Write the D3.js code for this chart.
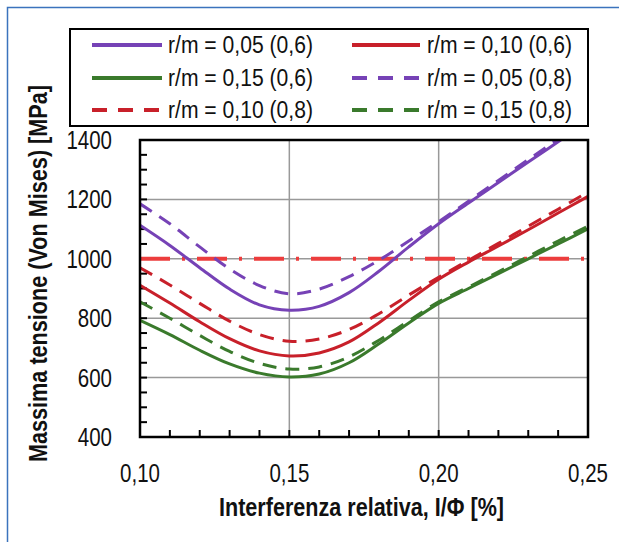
<!DOCTYPE html>
<html><head><meta charset="utf-8">
<script src="https://cdn.jsdelivr.net/npm/d3@7"></script>
<style>
html,body{margin:0;padding:0;background:#fff;}
svg{display:block;}
</style></head>
<body>
<svg id="chart" width="619" height="542"></svg>
<script>
// ---- data ----
const xValues = [0.10,0.11,0.12,0.13,0.14,0.15,0.16,0.17,0.18,0.19,0.20,0.21,0.22,0.23,0.24,0.25];
const purpleSolid  = [1113,1045,970,898,845,827,840,886,958,1040,1118,1188,1257,1326,1394,1462];
const redSolid     = [911,851,788,731,690,673,683,720,785,860,931,989,1043,1098,1154,1210];
const greenSolid   = [793,745,692,646,615,602,612,650,714,784,850,900,950,1000,1050,1101];
const purpleDashed = [1185,1118,1040,966,910,882,898,940,995,1060,1125,1194,1264,1334,1403,1472];
const redDashed    = [970,912,850,790,745,722,730,762,815,878,938,995,1052,1110,1167,1225];
const greenDashed  = [855,800,742,688,648,629,636,670,726,791,855,905,956,1008,1060,1110];
const limitValue = 1000;
const seriesNames = ["r/m = 0,05 (0,6)","r/m = 0,10 (0,6)","r/m = 0,15 (0,6)","r/m = 0,05 (0,8)","r/m = 0,10 (0,8)","r/m = 0,15 (0,8)"];
const xTicks = [0.10,0.15,0.20,0.25];
const yTicks = [400,600,800,1000,1200,1400];
const xTitle = "Interferenza relativa, I/\u03A6 [%]";
const yTitle = "Massima tensione (Von Mises) [MPa]";

const series = [
  {name: seriesNames[0], values: purpleSolid,  color: "#7642b6", dash: null},
  {name: seriesNames[1], values: redSolid,     color: "#c8202a", dash: null},
  {name: seriesNames[2], values: greenSolid,   color: "#3a7a2c", dash: null},
  {name: seriesNames[3], values: purpleDashed, color: "#7642b6", dash: "14,9"},
  {name: seriesNames[4], values: redDashed,    color: "#c8202a", dash: "14,9"},
  {name: seriesNames[5], values: greenDashed,  color: "#3a7a2c", dash: "14,9"}
];

const svg = d3.select("#chart");
const L = 140, R = 588, T = 140, B = 437;
const x = d3.scaleLinear().domain([0.10,0.25]).range([L,R]);
const y = d3.scaleLinear().domain([400,1400]).range([B,T]);
const fmt = d => d.toFixed(2).replace(".", ",");

// outer blue frame
svg.append("rect").attr("x",7.5).attr("y",7.5).attr("width",700).attr("height",700)
  .attr("fill","none").attr("stroke","#3b73bd").attr("stroke-width",1.5);

// grid
const grid = svg.append("g");
grid.selectAll("line.gy").data(yTicks.slice(1,-1)).join("line")
  .attr("x1",L).attr("x2",R).attr("y1",d=>y(d)).attr("y2",d=>y(d))
  .attr("stroke","#999").attr("stroke-width",1.5);
grid.selectAll("line.gx").data(xTicks.slice(1,-1)).join("line")
  .attr("x1",d=>x(d)).attr("x2",d=>x(d)).attr("y1",T).attr("y2",B)
  .attr("stroke","#999").attr("stroke-width",1.5);

// minor ticks (inward)
const yMinor = d3.range(400,1401,50);
svg.append("g").selectAll("line").data(yMinor).join("line")
  .attr("x1",L).attr("x2",L+7).attr("y1",d=>y(d)).attr("y2",d=>y(d))
  .attr("stroke","#000").attr("stroke-width",2);
const xMinor = d3.range(0,16).map(i => 0.10 + i*0.01);
svg.append("g").selectAll("line").data(xMinor).join("line")
  .attr("x1",d=>x(d)).attr("x2",d=>x(d)).attr("y1",B).attr("y2",B-7)
  .attr("stroke","#000").attr("stroke-width",2);

// clip
svg.append("clipPath").attr("id","clip").append("rect")
  .attr("x",L).attr("y",T).attr("width",R-L).attr("height",B-T);

const plot = svg.append("g").attr("clip-path","url(#clip)");

// limit line
plot.append("line").attr("x1",x(0.10)).attr("x2",x(0.25))
  .attr("y1",y(limitValue)).attr("y2",y(limitValue))
  .attr("stroke","#ec3d3d").attr("stroke-width",4)
  .attr("stroke-dasharray","30,12,3,12");

const line = d3.line().x((d,i)=>x(xValues[i])).y(d=>y(d)).curve(d3.curveCatmullRom.alpha(0.5));
series.forEach(s => {
  plot.append("path").datum(s.values).attr("d",line)
    .attr("fill","none").attr("stroke",s.color).attr("stroke-width",3)
    .attr("stroke-dasharray",s.dash);
});

// frame
svg.append("rect").attr("x",L).attr("y",T).attr("width",R-L).attr("height",B-T)
  .attr("fill","none").attr("stroke","#000").attr("stroke-width",2.5);

// axes labels
const font = "'Liberation Sans', Arial, sans-serif";
svg.append("g").selectAll("g").data(yTicks).join("g")
  .attr("transform",d=>`translate(112,${y(d)}) scale(0.82,1)`)
  .append("text").attr("dy","0.36em")
  .attr("text-anchor","end").attr("font-family",font).attr("font-size",25)
  .attr("fill","#111").text(d=>d);
svg.append("g").selectAll("g").data(xTicks).join("g")
  .attr("transform",d=>`translate(${x(d)},482) scale(0.82,1)`)
  .append("text")
  .attr("text-anchor","middle").attr("font-family",font).attr("font-size",25)
  .attr("fill","#111").text(fmt);

svg.append("text").attr("x",219).attr("y",516)
  .attr("font-family",font).attr("font-size",25).attr("font-weight","bold")
  .attr("textLength",285).attr("lengthAdjust","spacingAndGlyphs")
  .attr("fill","#111").text(xTitle);
svg.append("text").attr("transform","translate(47,462) rotate(-90)")
  .attr("font-family",font).attr("font-size",25).attr("font-weight","bold")
  .attr("textLength",377).attr("lengthAdjust","spacingAndGlyphs")
  .attr("fill","#111").text(yTitle);

// legend
svg.append("rect").attr("x",70).attr("y",29).attr("width",518).attr("height",97)
  .attr("fill","#fff").attr("stroke","#000").attr("stroke-width",2);
const rowsY = [45,78,110];
const colLine = [[92,162],[352,420]];
const colText = [168,427];
series.forEach((s,k) => {
  const row = Math.floor(k/2), col = k%2;
  const ly = rowsY[row];
  svg.append("line").attr("x1",colLine[col][0]).attr("x2",colLine[col][1])
    .attr("y1",ly).attr("y2",ly).attr("stroke",s.color).attr("stroke-width",4)
    .attr("stroke-dasharray", s.dash ? "15,11" : null);
  svg.append("text").attr("x",colText[col]).attr("y",ly).attr("dy","0.36em")
    .attr("font-family",font).attr("font-size",23)
    .attr("textLength",145).attr("lengthAdjust","spacingAndGlyphs")
    .attr("fill","#111").text(s.name);
});
</script>
</body></html>
